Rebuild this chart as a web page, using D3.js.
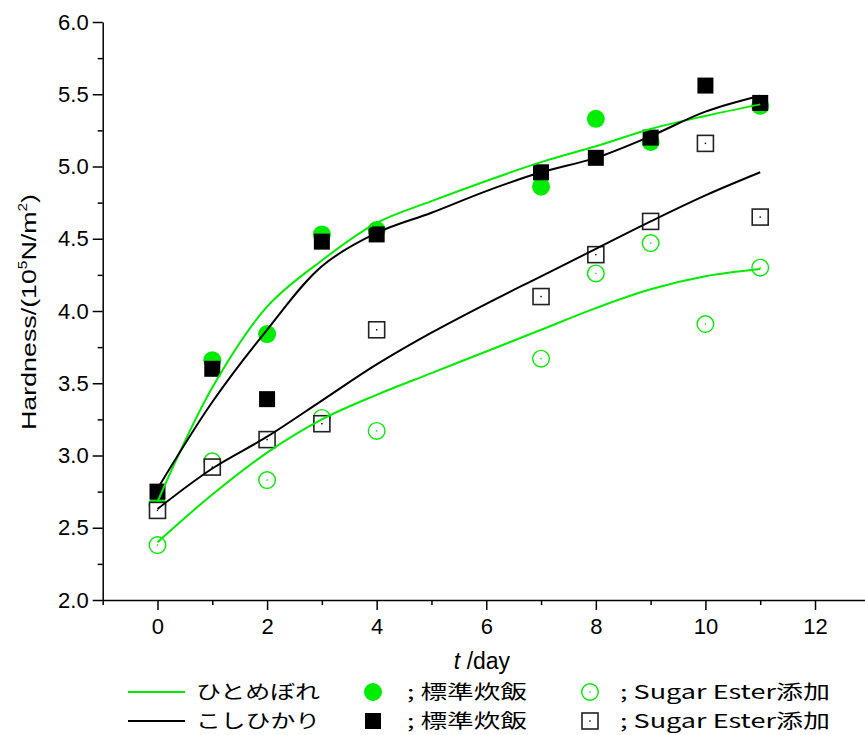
<!DOCTYPE html>
<html>
<head>
<meta charset="utf-8">
<script src="https://cdn.jsdelivr.net/npm/d3@7"></script>
<style>
  body { margin: 0; background: #fff; }
  svg { display: block; }
  .axis path, .axis line { stroke: #000; stroke-width: 1.5px; }
  .axis text { fill: #000; }
  .xaxis text { font-family: 'Liberation Sans Narrow', 'Arial Narrow', 'Liberation Sans', sans-serif; font-size: 22px; }
  .yaxis text { font-family: 'Liberation Sans', Arial, sans-serif; font-size: 22px; }
</style>
</head>
<body>
<div id="chart"></div>
<script>
// days measured
var days = [0, 1, 2, 3, 4, 7, 8, 9, 10, 11];

// ひとめぼれ ; 標準炊飯 (green filled circles), no point at day 10
var hitoStd = [2.66, 3.66, 3.84, 4.53, 4.56, 4.86, 5.33, 5.17, null, 5.42];
// こしひかり ; 標準炊飯 (black filled squares)
var koshiStd = [2.75, 3.60, 3.39, 4.48, 4.53, 4.96, 5.06, 5.20, 5.56, 5.44];
// ひとめぼれ ; Sugar Ester添加 (green open circles)
var hitoSE = [2.38, 2.96, 2.83, 3.26, 3.17, 3.67, 4.26, 4.47, 3.91, 4.30];
// こしひかり ; Sugar Ester添加 (black open squares)
var koshiSE = [2.62, 2.92, 3.11, 3.22, 3.87, 4.10, 4.39, 4.62, 5.16, 4.65];

var fitDays = [0, 1, 2, 3, 4, 5, 6, 7, 8, 9, 10, 11];
var hitoStdFit = [2.68, 3.47, 4.03, 4.35, 4.61, 4.76, 4.90, 5.03, 5.14, 5.26, 5.35, 5.43];
var koshiStdFit = [2.77, 3.37, 3.87, 4.31, 4.54, 4.68, 4.83, 4.96, 5.06, 5.21, 5.38, 5.49];
var hitoSEFit = [2.40, 2.73, 3.02, 3.25, 3.42, 3.57, 3.72, 3.87, 4.02, 4.15, 4.24, 4.29];
var koshiSEFit = [2.63, 2.91, 3.13, 3.38, 3.63, 3.85, 4.05, 4.24, 4.43, 4.62, 4.80, 4.96];

var xMajor = [0, 2, 4, 6, 8, 10, 12];
var xMinor = [-1, 1, 3, 5, 7, 9, 11, 13];
var yMajor = [2.0, 2.5, 3.0, 3.5, 4.0, 4.5, 5.0, 5.5, 6.0];
var yMinor = [2.25, 2.75, 3.25, 3.75, 4.25, 4.75, 5.25, 5.75];

var green = "#00ec00";
var black = "#000000";

var W = 865, H = 735;

var x = d3.scaleLinear().domain([-1, 13]).range([102.7, 869.8]);
var y = d3.scaleLinear().domain([2, 6]).range([600, 22]);

var svg = d3.select("#chart").append("svg")
    .attr("width", W)
    .attr("height", H);

// axes
svg.append("g")
    .attr("class", "axis xaxis")
    .attr("transform", "translate(0,600)")
    .call(d3.axisBottom(x).tickValues(xMajor).tickSize(10).tickSizeOuter(0).tickPadding(8)
        .tickFormat(d3.format("d")));

svg.append("g")
    .attr("class", "axis")
    .attr("transform", "translate(0,600)")
    .call(d3.axisBottom(x).tickValues(xMinor).tickSize(5).tickSizeOuter(0).tickFormat(""))
    .select(".domain").remove();

svg.append("g")
    .attr("class", "axis yaxis")
    .attr("transform", "translate(102.7,0)")
    .call(d3.axisLeft(y).tickValues(yMajor).tickSize(10).tickSizeOuter(0).tickPadding(4)
        .tickFormat(d3.format(".1f")));

svg.append("g")
    .attr("class", "axis")
    .attr("transform", "translate(102.7,0)")
    .call(d3.axisLeft(y).tickValues(yMinor).tickSize(5).tickSizeOuter(0).tickFormat(""))
    .select(".domain").remove();

// axis titles
var xt = svg.append("text")
    .attr("x", 482)
    .attr("y", 669)
    .attr("text-anchor", "middle")
    .attr("font-family", "'Liberation Sans Narrow', 'Arial Narrow', 'Liberation Sans', sans-serif")
    .attr("font-size", "23px");
xt.append("tspan").attr("font-style", "italic").text("t");
xt.append("tspan").text(" /day");

var yt = svg.append("text")
    .attr("transform", "translate(36,312) rotate(-90)")
    .attr("text-anchor", "middle")
    .attr("font-family", "'Liberation Sans', Arial, sans-serif")
    .attr("font-size", "21px")
    .attr("textLength", 236)
    .attr("lengthAdjust", "spacingAndGlyphs");
yt.append("tspan").text("Hardness/(10");
yt.append("tspan").attr("dy", -9).attr("font-size", "12px").text("5");
yt.append("tspan").attr("dy", 9).text("N/m");
yt.append("tspan").attr("dy", -9).attr("font-size", "12px").text("2");
yt.append("tspan").attr("dy", 9).text(")");

function pts(vals) {
    return days.map(function (d, i) { return {day: d, v: vals[i]}; })
        .filter(function (p) { return p.v !== null; });
}

var marks = svg.append("g");

function drawCircle(g, cx, cy, filled, color) {
    g.append("circle")
        .attr("cx", cx).attr("cy", cy)
        .attr("r", filled ? 9 : 8.3)
        .attr("fill", filled ? color : "#fff")
        .attr("stroke", filled ? "none" : color)
        .attr("stroke-width", 1.4);
    if (!filled) {
        g.append("rect").attr("x", cx - 0.7).attr("y", cy - 0.7)
            .attr("width", 1.4).attr("height", 1.4).attr("fill", color);
    }
}

function drawSquare(g, cx, cy, filled, color) {
    g.append("rect")
        .attr("x", cx - 8).attr("y", cy - 8)
        .attr("width", 16).attr("height", 16)
        .attr("fill", filled ? color : "#fff")
        .attr("stroke", filled ? "none" : "#222")
        .attr("stroke-width", 1.6);
    if (!filled) {
        g.append("rect").attr("x", cx - 0.7).attr("y", cy - 0.7)
            .attr("width", 1.4).attr("height", 1.4).attr("fill", "#000");
    }
}

pts(hitoStd).forEach(function (p) { drawCircle(marks, x(p.day), y(p.v), true, green); });
pts(koshiStd).forEach(function (p) { drawSquare(marks, x(p.day), y(p.v), true, black); });
pts(hitoSE).forEach(function (p) { drawCircle(marks, x(p.day), y(p.v), false, green); });
pts(koshiSE).forEach(function (p) { drawSquare(marks, x(p.day), y(p.v), false, black); });

// fitted curves
var line = d3.line()
    .x(function (d) { return x(d.day); })
    .y(function (d) { return y(d.v); })
    .curve(d3.curveCatmullRom.alpha(0.5));

function fit(vals) {
    return fitDays.map(function (d, i) { return {day: d, v: vals[i]}; });
}

[[hitoStdFit, green], [koshiStdFit, black], [hitoSEFit, green], [koshiSEFit, black]]
    .forEach(function (s) {
        svg.append("path")
            .datum(fit(s[0]))
            .attr("fill", "none")
            .attr("stroke", s[1])
            .attr("stroke-width", 2)
            .attr("d", line);
    });

// legend
var leg = svg.append("g");
var jpFont = "'Noto Sans CJK JP', sans-serif";
var rows = [
    {yy: 692, color: green, name: "ひとめぼれ", circle: true},
    {yy: 721, color: black, name: "こしひかり", circle: false}
];
rows.forEach(function (r) {
    leg.append("line")
        .attr("x1", 128).attr("x2", 185)
        .attr("y1", r.yy).attr("y2", r.yy)
        .attr("stroke", r.color).attr("stroke-width", 2);
    leg.append("text")
        .attr("x", 196).attr("y", r.yy + 7)
        .attr("font-family", jpFont).attr("font-size", "19px")
        .attr("textLength", 124).attr("lengthAdjust", "spacingAndGlyphs")
        .text(r.name);
    if (r.circle) {
        drawCircle(leg, 373, r.yy, true, r.color);
        drawCircle(leg, 590, r.yy, false, r.color);
    } else {
        drawSquare(leg, 373, r.yy, true, r.color);
        drawSquare(leg, 590, r.yy, false, r.color);
    }
    leg.append("text")
        .attr("x", 407).attr("y", r.yy + 7)
        .attr("font-family", jpFont).attr("font-size", "19px")
        .attr("textLength", 120).attr("lengthAdjust", "spacingAndGlyphs")
        .text("; 標準炊飯");
    var t = leg.append("text")
        .attr("x", 620).attr("y", r.yy + 7)
        .attr("font-family", jpFont).attr("font-size", "19px")
        .attr("textLength", 210).attr("lengthAdjust", "spacingAndGlyphs");
    t.append("tspan").text("; Sugar Ester");
    t.append("tspan").text("添加");
});
</script>
</body>
</html>
